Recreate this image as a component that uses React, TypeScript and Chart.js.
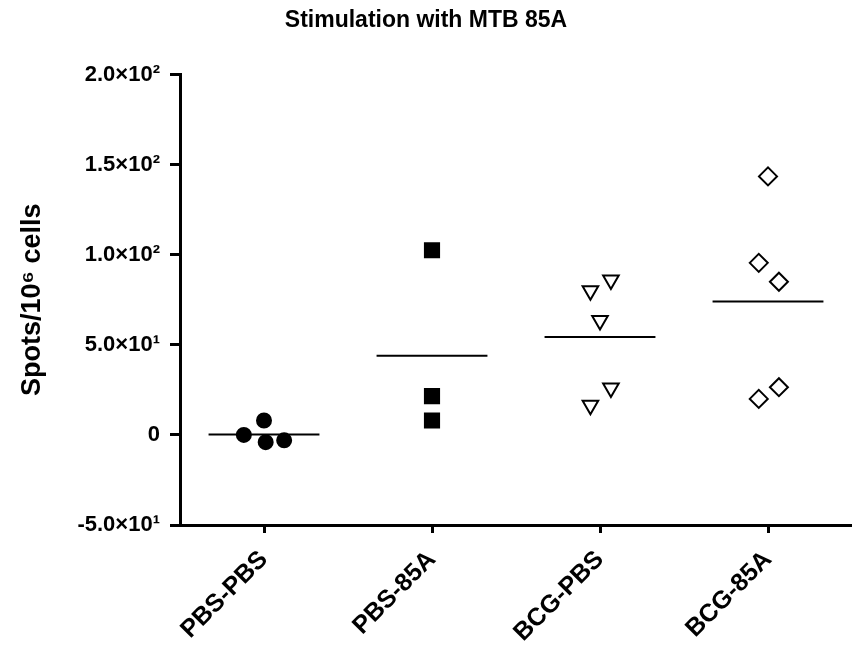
import React, { useEffect, useRef } from "react";
import { Chart, registerables } from "chart.js";

Chart.register(...registerables);

const TITLE = "Stimulation with MTB 85A";
const Y_TITLE = "Spots/10\u2076 cells";
const CATEGORIES = ["PBS-PBS", "PBS-85A", "BCG-PBS", "BCG-85A"];
const Y_TICK_VALUES = [-50, 0, 50, 100, 150, 200];
const Y_TICK_LABELS = ["-5.0\u00d710\u00b9", "0", "5.0\u00d710\u00b9", "1.0\u00d710\u00b2", "1.5\u00d710\u00b2", "2.0\u00d710\u00b2"];

const PBS_PBS = [0, 8, -4, -3];
const PBS_PBS_JITTER = [-0.12, 0, 0.01, 0.12];
const PBS_85A = [102.5, 21.5, 8];
const PBS_85A_JITTER = [0, 0, 0];
const BCG_PBS = [80, 86, 63.5, 26, 16.5];
const BCG_PBS_JITTER = [-0.057, 0.065, 0, 0.065, -0.057];
const BCG_85A = [143.5, 95.5, 85, 26.5, 20];
const BCG_85A_JITTER = [0, -0.055, 0.065, 0.065, -0.055];

const GROUPS = [
  { values: PBS_PBS, jitter: PBS_PBS_JITTER, style: "circle", radius: 7, fill: "#000000" },
  { values: PBS_85A, jitter: PBS_85A_JITTER, style: "rect", radius: 10, fill: "#000000" },
  { values: BCG_PBS, jitter: BCG_PBS_JITTER, style: "triangle", radius: 9, fill: "#ffffff", rotation: 180 },
  { values: BCG_85A, jitter: BCG_85A_JITTER, style: "rectRot", radius: 9, fill: "#ffffff" },
];

const MEAN_HALF_WIDTH = 0.33;

export default function App() {
  const ref = useRef<HTMLCanvasElement | null>(null);

  useEffect(() => {
    document.body.style.margin = "0";
    if (!ref.current) return;
    const font = "'Liberation Sans', Arial, sans-serif";

    const datasets: any[] = [];
    GROUPS.forEach((g, i) => {
      datasets.push({
        type: "scatter",
        data: g.values.map((v, j) => ({ x: i + g.jitter[j], y: v })),
        pointStyle: g.style,
        pointRadius: g.radius,
        pointRotation: (g as any).rotation || 0,
        backgroundColor: g.fill,
        borderColor: "#000000",
        borderWidth: 2,
        showLine: false,
        clip: false,
      });
      const mean = g.values.reduce((a, b) => a + b, 0) / g.values.length;
      datasets.push({
        type: "line",
        data: [
          { x: i - MEAN_HALF_WIDTH, y: mean },
          { x: i + MEAN_HALF_WIDTH, y: mean },
        ],
        borderColor: "#000000",
        borderWidth: 2,
        pointRadius: 0,
        fill: false,
      });
    });

    const chart = new Chart(ref.current, {
      type: "scatter",
      data: { datasets },
      options: {
        animation: false,
        responsive: false,
        layout: { padding: 0, autoPadding: false },
        plugins: {
          legend: { display: false },
          tooltip: { enabled: false },
          title: {
            display: true,
            text: TITLE,
            color: "#000000",
            font: { family: font, size: 23, weight: "bold" },
            padding: { top: 7, bottom: 40 },
          },
        },
        scales: {
          x: {
            type: "linear",
            min: -0.5,
            max: 3.5,
            afterBuildTicks: (axis: any) => {
              axis.ticks = CATEGORIES.map((_, i) => ({ value: i }));
            },
            afterFit: (scale: any) => {
              scale.height = 123;
              scale.paddingRight = 0;
            },
            border: { color: "#000000", width: 3 },
            grid: { drawOnChartArea: false, drawTicks: true, tickLength: 8, color: "#000000", lineWidth: 3 },
            ticks: {
              autoSkip: false,
              maxRotation: 45,
              minRotation: 45,
              color: "#000000",
              padding: 12,
              font: { family: font, size: 25, weight: "bold" },
              callback: (v: any) => CATEGORIES[Math.round(Number(v))] ?? "",
            },
          },
          y: {
            type: "linear",
            min: -50,
            max: 200,
            afterBuildTicks: (axis: any) => {
              axis.ticks = Y_TICK_VALUES.map((v) => ({ value: v }));
            },
            afterFit: (scale: any) => {
              scale.width = 180;
            },
            border: { color: "#000000", width: 3 },
            grid: { drawOnChartArea: false, drawTicks: true, tickLength: 10, color: "#000000", lineWidth: 3 },
            ticks: {
              color: "#000000",
              padding: 10,
              font: { family: font, size: 22, weight: "bold" },
              callback: (v: any) => {
                const idx = Y_TICK_VALUES.indexOf(Number(v));
                return idx >= 0 ? Y_TICK_LABELS[idx] : "";
              },
            },
            title: {
              display: true,
              text: Y_TITLE,
              color: "#000000",
              font: { family: font, size: 27, weight: "bold" },
              padding: { top: 16, bottom: 0 },
            },
          },
        },
      },
    });
    return () => chart.destroy();
  }, []);

  return (
    <div style={{ width: 852, height: 648 }}>
      <canvas ref={ref} width={852} height={648} style={{ display: "block" }} />
    </div>
  );
}
